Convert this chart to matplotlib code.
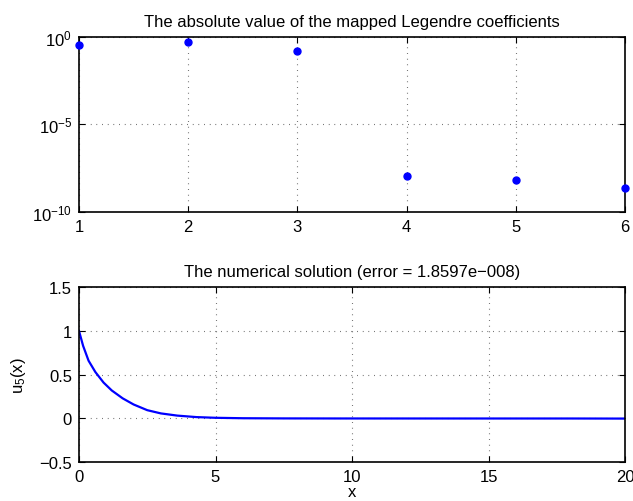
import numpy as np
import matplotlib
matplotlib.use("Agg")
import matplotlib.pyplot as plt

# coefficients
coef_idx = [1, 2, 3, 4, 5, 6]
coef_abs = [0.34, 0.50, 0.16, 1.1e-8, 6.6e-9, 2.2e-9]

# numerical solution samples
sol_x = [0, 0.15, 0.35, 0.6, 0.9, 1.2, 1.6, 2.0, 2.5, 3.0, 3.6, 4.3, 5.0, 6.0, 7.5, 9.5, 12, 15, 18, 20]
sol_u = [1.0, 0.83, 0.66, 0.53, 0.41, 0.32, 0.23, 0.16, 0.095, 0.058, 0.033, 0.016, 0.008, 0.003, 0.001, 0.0003, 0.0001, 0.0, 0.0, -0.001]

plt.rcParams['font.family'] = ['Liberation Sans', 'DejaVu Sans']
plt.rcParams['font.size'] = 12
plt.rcParams['mathtext.default'] = 'regular'
plt.rcParams['xtick.direction'] = 'in'
plt.rcParams['ytick.direction'] = 'in'

fig = plt.figure(figsize=(6.33, 5.02), dpi=100)
grid_kw = dict(linestyle=(0, (0.6, 4.5)), color='#333333', linewidth=0.8)

# top: semilogy of coefficients
ax1 = fig.add_axes([0.1248, 0.5757, 0.8626, 0.349])
ax1.semilogy(coef_idx, coef_abs, 'o', color='blue', markersize=5, clip_on=False, zorder=3)
ax1.set_xlim(1, 6)
ax1.set_ylim(1e-10, 1)
ax1.set_yticks([1e-10, 1e-5, 1])
ax1.minorticks_off()
ax1.set_xticks(coef_idx)
ax1.grid(True, **grid_kw)
ax1.set_title('The absolute value of the mapped Legendre coefficients', fontsize=12, pad=8)

# bottom: numerical solution
ax2 = fig.add_axes([0.1248, 0.0771, 0.8626, 0.349])
ax2.plot(sol_x, sol_u, '-', color='blue', linewidth=1.6)
ax2.set_xlim(0, 20)
ax2.set_ylim(-0.5, 1.5)
ax2.set_xticks([0, 5, 10, 15, 20])
ax2.set_yticks([-0.5, 0, 0.5, 1, 1.5])
ax2.set_yticklabels(['\u22120.5', '0', '0.5', '1', '1.5'])
ax2.grid(True, **grid_kw)
ax2.set_title('The numerical solution (error = 1.8597e\u2212008)', fontsize=12, pad=8)
ax2.set_xlabel('x', labelpad=0)
ax2.set_ylabel('u$_5$(x)', labelpad=8)

for ax in (ax1, ax2):
    ax.tick_params(top=True, right=True, length=4, width=0.8, pad=5)
    for s in ax.spines.values():
        s.set_linewidth(1.2)

fig.savefig('out.png', dpi=100)
